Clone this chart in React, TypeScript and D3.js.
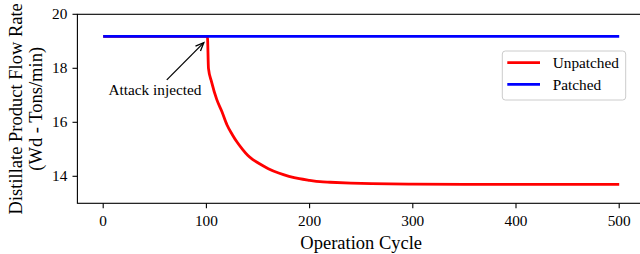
import React from "react";
import * as d3 from "d3";

const cycles = [0, 100, 101, 102, 105, 110, 115, 120, 125, 130, 135, 140, 145, 150, 160, 170, 180, 190, 200, 210, 220, 240, 260, 300, 350, 400, 450, 500];
const unpatched = [19.18, 19.18, 19.18, 18.0, 17.5, 16.85, 16.4, 15.9, 15.55, 15.25, 15.0, 14.78, 14.62, 14.5, 14.28, 14.12, 14.0, 13.91, 13.85, 13.8, 13.78, 13.75, 13.73, 13.71, 13.7, 13.7, 13.7, 13.7];
const patchedCycles = [0, 100, 200, 300, 400, 500];
const patched = [19.18, 19.18, 19.18, 19.18, 19.18, 19.18];
const xTicks = [0, 100, 200, 300, 400, 500];
const yTicks = [14, 16, 18, 20];
const seriesNames = ["Unpatched", "Patched"];
const seriesColors = ["#ff0000", "#0000ff"];

const W = 640;
const H = 254;
const FONT = "'Liberation Serif', 'Times New Roman', serif";

export default function App() {
  const left = 77.4, right = 645, top = 14.3, bottom = 203.3;
  const x = d3.scaleLinear().domain([-25, 525]).range([left, right]);
  const y = d3.scaleLinear().domain([13, 20]).range([bottom, top]);
  const line = d3
    .line<[number, number]>()
    .x((d) => x(d[0]))
    .y((d) => y(d[1]))
    .curve(d3.curveMonotoneX);
  const redPts = cycles.map((c, i) => [c, unpatched[i]] as [number, number]);
  const bluePts = patchedCycles.map((c, i) => [c, patched[i]] as [number, number]);

  // annotation
  const tip: [number, number] = [97.5, 18.95];
  const tail: [number, number] = [61.6, 17.57];
  const tx = x(tip[0]), ty = y(tip[1]);
  const sx = x(tail[0]), sy = y(tail[1]);
  const ang = Math.atan2(ty - sy, tx - sx);
  const hl = 9;
  const ha = 0.4;
  const h1 = [tx - hl * Math.cos(ang - ha), ty - hl * Math.sin(ang - ha)];
  const h2 = [tx - hl * Math.cos(ang + ha), ty - hl * Math.sin(ang + ha)];

  return (
    <svg width={W} height={H} style={{ position: "absolute", left: 0, top: 0, background: "#fff" }} fontFamily={FONT}>
      <rect x={0} y={0} width={W} height={H} fill="#fff" />
      <path d={line(redPts) || ""} fill="none" stroke={seriesColors[0]} strokeWidth={2.8} />
      <path d={line(bluePts) || ""} fill="none" stroke={seriesColors[1]} strokeWidth={2.8} />
      {/* spines */}
      <rect x={left} y={top} width={right - left} height={bottom - top} fill="none" stroke="#000" strokeWidth={1.1} />
      {xTicks.map((t) => (
        <g key={"x" + t}>
          <line x1={x(t)} x2={x(t)} y1={bottom} y2={bottom + 4.9} stroke="#000" strokeWidth={1.1} />
          <text x={x(t)} y={bottom + 22.5} fontSize={15.3} textAnchor="middle" fill="#000">{t}</text>
        </g>
      ))}
      {yTicks.map((t) => (
        <g key={"y" + t}>
          <line x1={left - 4.9} x2={left} y1={y(t)} y2={y(t)} stroke="#000" strokeWidth={1.1} />
          <text x={left - 10} y={y(t) + 5} fontSize={15.3} textAnchor="end" fill="#000">{t}</text>
        </g>
      ))}
      <text x={(left + right) / 2} y={249} fontSize={18.5} textAnchor="middle" fill="#000">Operation Cycle</text>
      <g transform={`translate(22.3, ${(top + bottom) / 2}) rotate(-90)`}>
        <text x={0} y={0} fontSize={18.5} textAnchor="middle" fill="#000">Distillate Product Flow Rate</text>
        <text x={0} y={19.4} fontSize={18.5} textAnchor="middle" fill="#000">(Wd - Tons/min)</text>
      </g>
      {/* annotation */}
      <text x={155} y={95} fontSize={15.3} textAnchor="middle" fill="#000">Attack injected</text>
      <line x1={sx} y1={sy} x2={tx} y2={ty} stroke="#000" strokeWidth={1.3} />
      <path d={`M${h1[0]},${h1[1]} L${tx},${ty} L${h2[0]},${h2[1]}`} fill="none" stroke="#000" strokeWidth={1.3} />
      {/* legend */}
      <rect x={502.3} y={51} width={123.4} height={49} rx={3} ry={3} fill="#fff" fillOpacity={0.8} stroke="#cccccc" strokeWidth={1} />
      {seriesNames.map((n, i) => {
        const ly = 62.7 + i * 21.6;
        return (
          <g key={n}>
            <line x1={507.3} x2={540} y1={ly} y2={ly} stroke={seriesColors[i]} strokeWidth={2.8} />
            <text x={552.7} y={ly + 5.2} fontSize={15.3} fill="#000">{n}</text>
          </g>
        );
      })}
    </svg>
  );
}
